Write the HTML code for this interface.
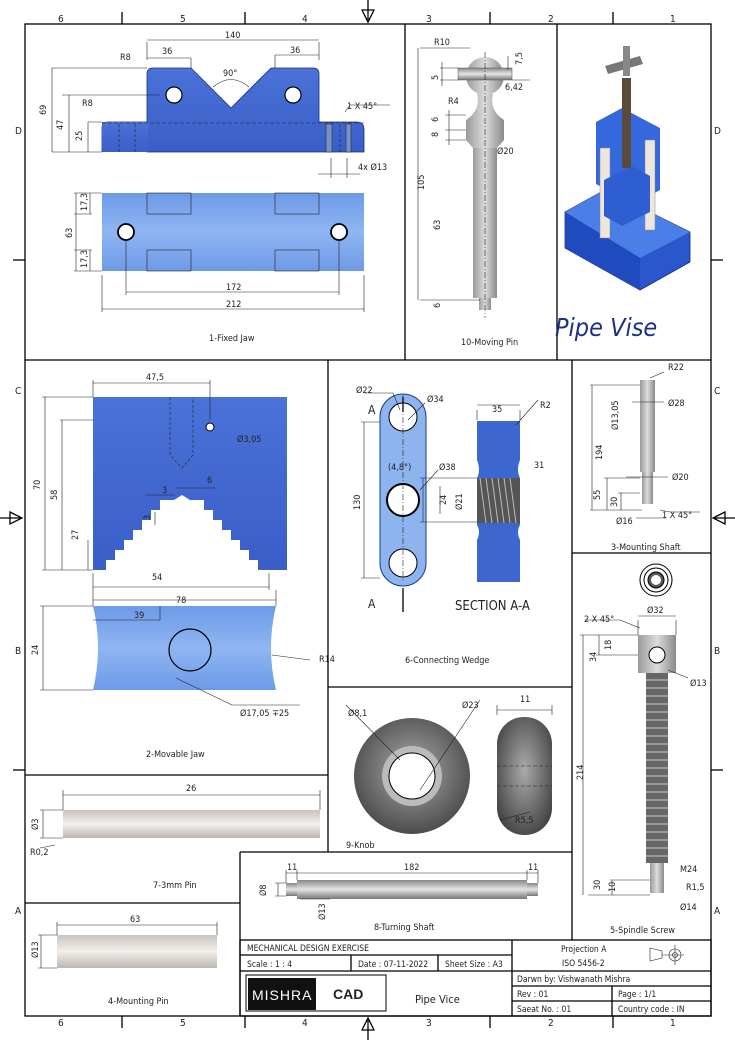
<!DOCTYPE html>
<html><head><meta charset="utf-8"><style>
body{margin:0;background:#fff}
svg{display:block;font-family:"DejaVu Sans Condensed","Liberation Sans Narrow","Liberation Sans",sans-serif;font-size:9px}
text{fill:#222}
.t{stroke:#222;stroke-width:0.7;fill:none}
.b{stroke:#000;stroke-width:1.3;fill:none}
.d{stroke:#222;stroke-width:0.6;fill:none}
.c{stroke:#222;stroke-width:0.6;stroke-dasharray:6 2 1 2;fill:none}
</style></head><body>
<svg width="735" height="1040" viewBox="0 0 735 1040" xmlns="http://www.w3.org/2000/svg">
<defs>
<linearGradient id="bl" x1="0" y1="0" x2="0" y2="1"><stop offset="0" stop-color="#4a72d8"/><stop offset="1" stop-color="#3a5ec8"/></linearGradient>
<linearGradient id="lb" x1="0" y1="0" x2="0" y2="1"><stop offset="0" stop-color="#6d9ae8"/><stop offset=".5" stop-color="#8fb6f2"/><stop offset="1" stop-color="#6d9ae8"/></linearGradient>
<linearGradient id="gr" x1="0" y1="0" x2="1" y2="0"><stop offset="0" stop-color="#9a9a9a"/><stop offset=".5" stop-color="#dcdcdc"/><stop offset="1" stop-color="#8a8a8a"/></linearGradient>
<linearGradient id="grh" x1="0" y1="0" x2="0" y2="1"><stop offset="0" stop-color="#888"/><stop offset=".5" stop-color="#e4e4e4"/><stop offset="1" stop-color="#777"/></linearGradient>
<linearGradient id="pin" x1="0" y1="0" x2="0" y2="1"><stop offset="0" stop-color="#c9c3bd"/><stop offset=".5" stop-color="#f2efec"/><stop offset="1" stop-color="#bdb6b0"/></linearGradient>
<radialGradient id="kn" cx=".5" cy=".45" r=".6"><stop offset="0" stop-color="#aaa"/><stop offset="1" stop-color="#444"/></radialGradient>
</defs>

<!-- frame -->
<rect x="25" y="24" width="686" height="992" class="b" stroke-width="2"/>
<g class="b" stroke-width="1.2">
<line x1="25" y1="360" x2="711" y2="360"/>
<line x1="405" y1="24" x2="405" y2="360"/>
<line x1="557" y1="24" x2="557" y2="360"/>
<line x1="328" y1="360" x2="328" y2="852"/>
<line x1="572" y1="360" x2="572" y2="940"/>
<line x1="572" y1="553" x2="711" y2="553"/>
<line x1="328" y1="687" x2="572" y2="687"/>
<line x1="25" y1="775" x2="328" y2="775"/>
<line x1="25" y1="903" x2="240" y2="903"/>
<line x1="240" y1="852" x2="572" y2="852"/>
<line x1="240" y1="852" x2="240" y2="1016"/>
</g>
<g class="b"><line x1="122" y1="12" x2="122" y2="24"/><line x1="245" y1="12" x2="245" y2="24"/><line x1="490" y1="12" x2="490" y2="24"/><line x1="613" y1="12" x2="613" y2="24"/>
<line x1="122" y1="1016" x2="122" y2="1028"/><line x1="245" y1="1016" x2="245" y2="1028"/><line x1="490" y1="1016" x2="490" y2="1028"/><line x1="613" y1="1016" x2="613" y2="1028"/>
<line x1="13" y1="260" x2="25" y2="260"/><line x1="13" y1="770" x2="25" y2="770"/><line x1="711" y1="260" x2="723" y2="260"/><line x1="711" y1="770" x2="723" y2="770"/>
<path d="M368 0V20M362 10L368 22L374 10Z"/><path d="M368 1040V1020M362 1030L368 1018L374 1030Z"/>
<path d="M0 518H20M10 512L22 518L10 524Z"/><path d="M735 518H715M725 512L713 518L725 524Z"/></g>
<g font-size="10"><text x="58" y="22">6</text><text x="180" y="22">5</text><text x="302" y="22">4</text><text x="426" y="22">3</text><text x="548" y="22">2</text><text x="670" y="22">1</text>
<text x="58" y="1026">6</text><text x="180" y="1026">5</text><text x="302" y="1026">4</text><text x="426" y="1026">3</text><text x="548" y="1026">2</text><text x="670" y="1026">1</text>
<text x="15" y="134">D</text><text x="15" y="394">C</text><text x="15" y="654">B</text><text x="15" y="914">A</text>
<text x="714" y="134">D</text><text x="714" y="394">C</text><text x="714" y="654">B</text><text x="714" y="914">A</text></g>

<!-- 1 Fixed Jaw -->
<path d="M147 152V74Q147 68 153 68H191L231 108L271 68H313Q319 68 319 74V122H357Q364 122 364 130V152Z" fill="url(#bl)" stroke="#1a2f7a" stroke-width="0.8"/>
<path d="M102 152V128Q102 122 108 122H147" fill="url(#bl)" stroke="#1a2f7a" stroke-width="0.8"/>
<rect x="102" y="122" width="46" height="30" fill="url(#bl)"/>
<circle cx="174" cy="95" r="8" fill="#fff" stroke="#000" stroke-width="1.2"/><circle cx="293" cy="95" r="8" fill="#fff" stroke="#000" stroke-width="1.2"/>
<line x1="102" y1="123" x2="364" y2="123" class="d" stroke-dasharray="4 2"/>
<path d="M119 124V152M135 124V152M340 124V152" class="d" stroke-dasharray="3 2"/>
<rect x="326" y="124" width="6" height="28" fill="#7890c8" stroke="#222" stroke-width=".5"/><rect x="346" y="124" width="5" height="28" fill="#7890c8" stroke="#222" stroke-width=".5"/>
<rect x="102" y="193" width="262" height="78" fill="url(#lb)"/>
<g class="d"><rect x="147" y="193" width="44" height="21"/><rect x="275" y="193" width="44" height="21"/><rect x="147" y="250" width="44" height="21"/><rect x="275" y="250" width="44" height="21"/></g>
<circle cx="126" cy="232" r="8" fill="#fff" stroke="#000" stroke-width="1.8"/><circle cx="339" cy="232" r="8" fill="#fff" stroke="#000" stroke-width="1.8"/>
<g class="d"><path d="M147 42V60M319 42V60M147 40H319M147 58H191M275 55H319M191 58V68M275 55V68"/><path d="M52 68H147M62 95H160M88 122H102M52 152H102M52 68V152M69 95V152M88 122V152"/>
<path d="M74 193H102M74 214H92M74 250H92M74 271H102M76 193V271M90 193V214M90 250V271"/>
<path d="M102 275V312M364 275V312M126 240V295M339 240V295M126 292H339M102 309H364"/>
<path d="M331 158V178M347 158V178M318 174H360M345 112L350 105H390"/>
<path d="M213 87Q231 72 249 87"/></g>
<text x="225" y="38">140</text><text x="162" y="54">36</text><text x="290" y="53">36</text><text x="223" y="76">90°</text><text x="120" y="60">R8</text><text x="82" y="106">R8</text>
<text x="46" y="115" transform="rotate(-90 46 115)">69</text><text x="63" y="130" transform="rotate(-90 63 130)">47</text><text x="82" y="141" transform="rotate(-90 82 141)">25</text>
<text x="347" y="109">1 X 45°</text><text x="358" y="170">4x Ø13</text>
<text x="72" y="238" transform="rotate(-90 72 238)">63</text><text x="87" y="211" transform="rotate(-90 87 211)">17,3</text><text x="87" y="268" transform="rotate(-90 87 268)">17,3</text>
<text x="226" y="290">172</text><text x="226" y="307">212</text>
<text x="209" y="341">1-Fixed Jaw</text>

<!-- 10 Moving pin -->
<circle cx="485" cy="76" r="19" fill="url(#gr)"/>
<rect x="458" y="68" width="54" height="12" fill="url(#grh)" stroke="#555" stroke-width=".5"/>
<path d="M477 94Q481 110 466 120V130H504V120Q489 110 493 94Z" fill="url(#gr)"/>
<rect x="473" y="148" width="24" height="150" fill="url(#gr)"/>
<path d="M466 130H504V140L497 148H473L466 140Z" fill="url(#gr)"/>
<rect x="479" y="298" width="12" height="12" fill="url(#gr)"/>
<line x1="485" y1="52" x2="485" y2="318" class="c"/>
<g class="d"><path d="M420 48H470M420 300H480M418 48V300M440 68H458M440 80H458M442 62V86M445 115H466M445 130H466M445 140H466M449 110V145M508 56V70M512 80H530"/></g>
<text x="434" y="45">R10</text><text x="448" y="104">R4</text><text x="505" y="90">6,42</text><text x="497" y="154">Ø20</text>
<text x="522" y="65" transform="rotate(-90 522 65)">7,5</text><text x="438" y="80" transform="rotate(-90 438 80)">5</text><text x="438" y="122" transform="rotate(-90 438 122)">6</text><text x="438" y="137" transform="rotate(-90 438 137)">8</text>
<text x="424" y="190" transform="rotate(-90 424 190)">105</text><text x="440" y="230" transform="rotate(-90 440 230)">63</text><text x="440" y="308" transform="rotate(-90 440 308)">6</text>
<text x="461" y="345">10-Moving Pin</text>

<!-- isometric vise -->
<path d="M565 212L605 190L690 232V262L640 290L565 248Z" fill="#2a58cc" stroke="#102a80" stroke-width=".8"/>
<path d="M565 212L605 190L690 232L640 258Z" fill="#4c7ee8"/>
<path d="M565 212L640 258V290L565 248Z" fill="#1f4bbf"/>
<path d="M596 122L622 108L660 128V190L634 204L596 184Z" fill="#3468dc"/>
<rect x="600" y="148" width="10" height="90" fill="#ece6dc" stroke="#888" stroke-width=".5"/><rect x="645" y="140" width="10" height="90" fill="#ece6dc" stroke="#888" stroke-width=".5"/>
<path d="M604 180L632 166L650 176V212L622 226L604 216Z" fill="#2f5ed2"/>
<rect x="622" y="78" width="9" height="90" fill="#5a4a3a"/>
<path d="M605 66L640 56L643 64L608 74Z" fill="#777"/><rect x="623" y="46" width="7" height="30" fill="#888"/>
<text x="555" y="336" font-size="25" font-style="italic" style="fill:#1a2f8a">Pipe Vise</text>

<!-- 2 Movable jaw -->
<path d="M93 397H287V570H258V560H249V550H240V540H231V530H222V520H213V510H204V500H190L182 495L174 500H160V510H151V520H142V530H133V540H124V550H115V560H106V570H93Z" fill="url(#bl)"/>
<path d="M170 397V455L182 468L193 455V397" class="d" stroke-dasharray="3 2"/>
<circle cx="210" cy="427" r="4" fill="#fff" stroke="#000"/>
<path d="M93 606H276Q266 648 276 690H93Q103 648 93 606Z" fill="url(#lb)"/>
<circle cx="190" cy="650" r="21" fill="none" stroke="#000" stroke-width="1.2"/>
<g class="d"><path d="M93 380V397M210 380V420M93 383H210M42 397H93M60 420H93M42 570H93M45 397V570M62 420V570M88 540V570M93 573V590M269 573V590M93 587H269M93 590V606M276 590V606M93 600H276M160 606V620M93 620H160M40 606H93M40 690H93M43 606V690M176 678L232 705H300M272 655L310 660M155 512V525M145 495H175M176 488H215"/></g>
<text x="146" y="380">47,5</text><text x="237" y="442">Ø3,05</text><text x="162" y="493">3</text><text x="207" y="483">6</text><text x="152" y="580">54</text>
<text x="40" y="490" transform="rotate(-90 40 490)">70</text><text x="57" y="500" transform="rotate(-90 57 500)">58</text><text x="78" y="540" transform="rotate(-90 78 540)">27</text><text x="150" y="520" transform="rotate(-90 150 520)">3</text>
<text x="176" y="603">78</text><text x="134" y="618">39</text><text x="38" y="655" transform="rotate(-90 38 655)">24</text><text x="319" y="662">R14</text><text x="240" y="716">Ø17,05 ∓25</text>
<text x="146" y="757">2-Movable Jaw</text>

<!-- 6 connecting wedge -->
<path d="M380 417A22 22 0 0 1 426 417V563A22 22 0 0 1 380 563Z" fill="#8db4ee" stroke="#1a3a90"/>
<circle cx="403" cy="417" r="14" fill="#fff" stroke="#000"/><circle cx="403" cy="500" r="16" fill="#fff" stroke="#000" stroke-width="2"/><circle cx="403" cy="563" r="14" fill="#fff" stroke="#000"/>
<path d="M403 395V582" class="c"/><path d="M403 397V412M403 588V612" class="b" stroke-width="2"/>
<path d="M477 421H520V460Q516 470 520 478V525Q516 532 520 540V582H477V540Q481 532 477 525V478Q481 470 477 460Z" fill="#3e66cf"/>
<rect x="477" y="478" width="43" height="45" fill="#555"/><path d="M480 478l6 45M486 478l6 45M492 478l6 45M498 478l6 45M504 478l6 45M510 478l6 45" stroke="#bbb"/>
<g class="d"><path d="M361 422H380M361 578H380M364 422V578M477 405H520M477 410V420M520 410V420M538 400L516 425M420 478H477M420 522H477M423 478V522M440 486V514M365 393H393L400 410M425 403L408 420M438 470L420 490"/></g>
<text x="356" y="393">Ø22</text><text x="427" y="402">Ø34</text><text x="388" y="470">(4,8°)</text><text x="439" y="470">Ø38</text><text x="492" y="412">35</text><text x="540" y="408">R2</text><text x="534" y="468">31</text>
<text x="368" y="414" font-size="12">A</text><text x="368" y="608" font-size="12">A</text>
<text x="360" y="510" transform="rotate(-90 360 510)">130</text><text x="446" y="505" transform="rotate(-90 446 505)">24</text><text x="462" y="510" transform="rotate(-90 462 510)">Ø21</text>
<text x="455" y="610" font-size="13">SECTION A-A</text><text x="405" y="663">6-Connecting Wedge</text>

<!-- 9 knob -->
<circle cx="412" cy="776" r="58" fill="url(#kn)"/><circle cx="412" cy="776" r="30" fill="#bbb"/><circle cx="412" cy="776" r="23" fill="#fff" stroke="#000"/>
<rect x="497" y="717" width="55" height="118" rx="27" fill="url(#kn)"/>
<path d="M497 766H552M497 786H552" class="d" stroke-dasharray="4 2"/>
<g class="d"><path d="M497 705V715M552 705V715M497 710H552M346 705L400 760M480 700L420 790M530 812L500 820"/></g>
<text x="348" y="716">Ø8,1</text><text x="462" y="708">Ø23</text><text x="520" y="702">11</text><text x="515" y="823">R5,5</text><text x="346" y="848">9-Knob</text>

<!-- 3 mounting shaft -->
<rect x="640" y="380" width="15" height="92" fill="url(#gr)"/><rect x="642" y="472" width="11" height="32" fill="url(#gr)"/>
<g class="d"><path d="M590 385H640M590 510H642M592 385V510M604 478H640M604 510H640M607 478V510M618 493H640M621 493V510M632 402H664M626 477H668M650 378L664 372M636 518H666M660 510L670 512H700"/></g>
<text x="668" y="370">R22</text><text x="668" y="406">Ø28</text><text x="672" y="480">Ø20</text><text x="616" y="524">Ø16</text><text x="662" y="518">1 X 45°</text>
<text x="602" y="460" transform="rotate(-90 602 460)">194</text><text x="618" y="430" transform="rotate(-90 618 430)">Ø13,05</text><text x="600" y="500" transform="rotate(-90 600 500)">55</text><text x="617" y="507" transform="rotate(-90 617 507)">30</text>
<text x="611" y="550">3-Mounting Shaft</text>

<!-- 5 spindle -->
<circle cx="656" cy="580" r="16" fill="none" stroke="#000"/><circle cx="656" cy="580" r="12" fill="none" stroke="#000"/><circle cx="656" cy="580" r="8" fill="#555" stroke="#000"/><circle cx="656" cy="580" r="5" fill="#fff"/>
<rect x="638" y="635" width="38" height="38" fill="url(#gr)"/><circle cx="657" cy="655" r="8" fill="#fff" stroke="#000"/>
<rect x="646" y="673" width="22" height="190" fill="#666"/>
<g stroke="#aaa" stroke-width="1.5"><path d="M646 680H668M646 688H668M646 696H668M646 704H668M646 712H668M646 720H668M646 728H668M646 736H668M646 744H668M646 752H668M646 760H668M646 768H668M646 776H668M646 784H668M646 792H668M646 800H668M646 808H668M646 816H668M646 824H668M646 832H668M646 840H668M646 848H668M646 856H668"/></g>
<rect x="650" y="863" width="14" height="30" fill="url(#gr)"/>
<g class="d"><path d="M638 620V635M676 620V635M638 616H676M580 635H638M596 655H638M583 635V895M599 635V655M588 895H650M610 880H650M612 880V895M640 628L620 620H585M668 670L688 678"/></g>
<text x="647" y="613">Ø32</text><text x="584" y="622">2 X 45°</text><text x="690" y="686">Ø13</text><text x="680" y="872">M24</text><text x="686" y="890">R1,5</text><text x="680" y="910">Ø14</text>
<text x="596" y="662" transform="rotate(-90 596 662)">34</text><text x="611" y="650" transform="rotate(-90 611 650)">18</text><text x="583" y="780" transform="rotate(-90 583 780)">214</text><text x="600" y="890" transform="rotate(-90 600 890)">30</text><text x="615" y="892" transform="rotate(-90 615 892)">10</text>
<text x="610" y="933">5-Spindle Screw</text>

<!-- 7 pin -->
<rect x="63" y="810" width="257" height="28" fill="url(#pin)"/>
<g class="d"><path d="M63 790V810M320 790V810M63 795H320M40 810H63M40 838H63M43 810V838M55 845L40 848"/></g>
<text x="186" y="791">26</text><text x="38" y="830" transform="rotate(-90 38 830)">Ø3</text><text x="30" y="855">R0,2</text><text x="153" y="888">7-3mm Pin</text>

<!-- 4 mounting pin -->
<rect x="57" y="935" width="160" height="33" fill="url(#pin)"/>
<g class="d"><path d="M57 922V935M217 922V935M57 925H217M38 935H57M38 968H57M41 935V968"/></g>
<text x="130" y="922">63</text><text x="38" y="958" transform="rotate(-90 38 958)">Ø13</text><text x="108" y="1004">4-Mounting Pin</text>

<!-- 8 turning shaft -->
<rect x="286" y="883" width="252" height="13" fill="url(#grh)"/><rect x="297" y="880" width="230" height="19" fill="url(#grh)"/>
<g class="d"><path d="M286 870V883M297 870V880M527 870V880M538 870V883M286 873H538M275 883H286M275 896H286M278 883V896M300 899H330"/></g>
<text x="287" y="870">11</text><text x="404" y="870">182</text><text x="528" y="870">11</text><text x="266" y="896" transform="rotate(-90 266 896)">Ø8</text><text x="325" y="920" transform="rotate(-90 325 920)">Ø13</text>
<text x="374" y="930">8-Turning Shaft</text>

<!-- title block -->
<g class="b" stroke-width="1"><rect x="240" y="940" width="471" height="76"/><line x1="512" y1="940" x2="512" y2="1016"/>
<line x1="240" y1="955" x2="512" y2="955"/><line x1="240" y1="971" x2="512" y2="971"/><line x1="351" y1="955" x2="351" y2="971"/><line x1="438" y1="955" x2="438" y2="971"/>
<line x1="512" y1="971" x2="711" y2="971"/><line x1="512" y1="986" x2="711" y2="986"/><line x1="512" y1="1001" x2="711" y2="1001"/><line x1="612" y1="986" x2="612" y2="1016"/></g>
<rect x="246" y="975" width="140" height="36" fill="none" stroke="#000" stroke-width="1"/><rect x="248" y="978" width="68" height="32" fill="#111"/>
<text x="252" y="1000" font-size="14" style="fill:#fff;font-family:'Liberation Sans',sans-serif;letter-spacing:1px">MISHRA</text>
<text x="333" y="999" font-size="14" font-weight="bold" style="font-family:'Liberation Sans',sans-serif">CAD</text>
<text x="247" y="951" font-size="8.5">MECHANICAL DESIGN EXERCISE</text><text x="247" y="967" font-size="8.5">Scale : 1 : 4</text><text x="358" y="967" font-size="8.5">Date : 07-11-2022</text><text x="445" y="967" font-size="8.5">Sheet Size : A3</text>
<text x="415" y="1003" font-size="11">Pipe Vice</text>
<text x="561" y="952" font-size="8.5">Projection A</text><text x="562" y="966" font-size="8.5">ISO 5456-2</text>
<g class="d" stroke-width="1"><path d="M650 948L662 951V958L650 961Z"/><circle cx="675" cy="955" r="6"/><circle cx="675" cy="955" r="2.5"/><path d="M662 955H684M675 945V965"/></g>
<text x="517" y="982" font-size="8.5">Darwn by: Vishwanath Mishra</text><text x="517" y="997" font-size="8.5">Rev : 01</text><text x="618" y="997" font-size="8.5">Page : 1/1</text>
<text x="517" y="1012" font-size="8.5">Saeat No. : 01</text><text x="618" y="1012" font-size="8.5">Country code : IN</text>
</svg>
</body></html>
